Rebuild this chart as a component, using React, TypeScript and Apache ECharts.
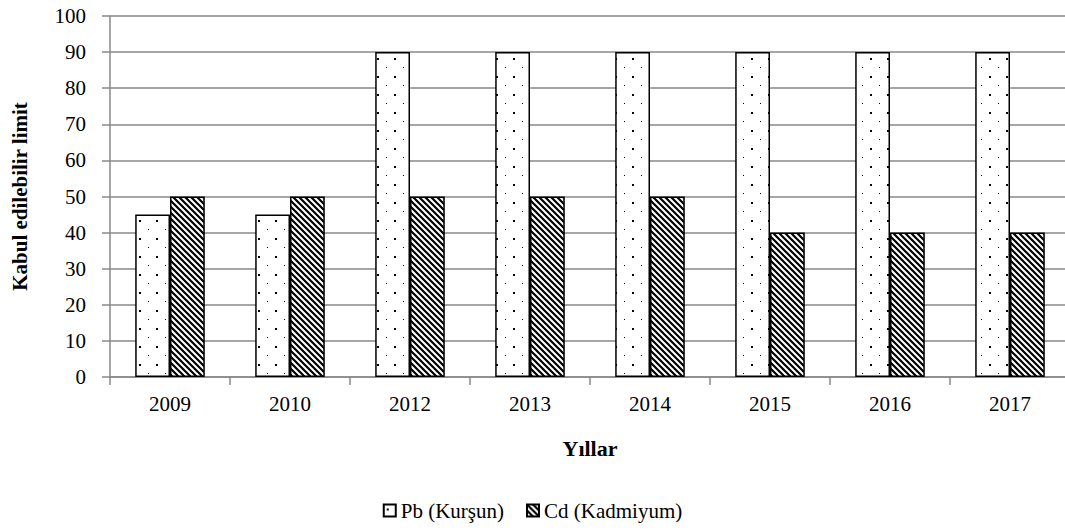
import React, { useEffect, useRef } from "react";
import * as echarts from "echarts";

const categories = ["2009", "2010", "2012", "2013", "2014", "2015", "2016", "2017"];
const pbValues = [45, 45, 90, 90, 90, 90, 90, 90];
const cdValues = [50, 50, 50, 50, 50, 40, 40, 40];
const seriesNames = ["Pb (Kurşun)", "Cd (Kadmiyum)"];

function dotPattern(): string {
  const c = document.createElement("canvas");
  c.width = 17;
  c.height = 18;
  const ctx = c.getContext("2d")!;
  ctx.fillStyle = "#fff";
  ctx.fillRect(0, 0, 17, 18);
  ctx.fillStyle = "#000";
  ctx.fillRect(3, 4, 2, 2);
  ctx.fillRect(12, 13, 1, 1);
  return c.toDataURL();
}

function stripePattern(): string {
  const s = 6;
  const c = document.createElement("canvas");
  c.width = s;
  c.height = s;
  const ctx = c.getContext("2d")!;
  ctx.fillStyle = "#fff";
  ctx.fillRect(0, 0, s, s);
  ctx.strokeStyle = "#000";
  ctx.lineWidth = 2.2;
  ctx.beginPath();
  ctx.moveTo(-s, -s);
  ctx.lineTo(2 * s, 2 * s);
  ctx.moveTo(-s, 0);
  ctx.lineTo(s, 2 * s);
  ctx.moveTo(0, -s);
  ctx.lineTo(2 * s, s);
  ctx.stroke();
  return c.toDataURL();
}

export default function App() {
  const ref = useRef<HTMLDivElement>(null);
  useEffect(() => {
    document.body.style.margin = "0";
    const chart = echarts.init(ref.current!, null, { renderer: "svg" });
    const font = "Liberation Serif";
    const pb = { image: dotPattern(), repeat: "repeat" };
    const cd = { image: stripePattern(), repeat: "repeat" };
    chart.setOption({
      animation: false,
      textStyle: { fontFamily: font },
      grid: { left: 110, right: -5, top: 16, bottom: 155, containLabel: false, outerBoundsMode: "none" },
      legend: {
        bottom: 6,
        left: "center",
        icon: "rect",
        itemWidth: 12,
        itemHeight: 12,
        itemGap: 22,
        textStyle: { fontFamily: font, fontSize: 21, color: "#000" },
        data: seriesNames,
      },
      xAxis: {
        type: "category",
        data: categories,
        name: "Yıllar",
        nameLocation: "middle",
        nameGap: 60,
        nameTextStyle: { fontFamily: font, fontSize: 22, fontWeight: "bold", color: "#000" },
        axisLine: { lineStyle: { color: "#888", width: 1.5 } },
        axisTick: { show: true, length: 8, lineStyle: { color: "#888", width: 1.5 } },
        axisLabel: { fontFamily: font, fontSize: 21, color: "#000", margin: 16 },
      },
      yAxis: {
        type: "value",
        min: 0,
        max: 100,
        interval: 10,
        name: "Kabul edilebilir limit",
        nameLocation: "middle",
        nameGap: 80,
        nameTextStyle: { fontFamily: font, fontSize: 21, fontWeight: "bold", color: "#000" },
        axisLine: { show: true, lineStyle: { color: "#888", width: 1.5 } },
        axisTick: { show: true, length: 8, lineStyle: { color: "#888", width: 1.5 } },
        axisLabel: { fontFamily: font, fontSize: 21, color: "#000", margin: 24 },
        splitLine: { lineStyle: { color: "#888", width: 1.5 } },
      },
      series: [
        {
          name: seriesNames[0],
          type: "bar",
          data: pbValues,
          barGap: "0%",
          barCategoryGap: "42%",
          itemStyle: { color: pb, borderColor: "#000", borderWidth: 1.5 },
        },
        {
          name: seriesNames[1],
          type: "bar",
          data: cdValues,
          barGap: "0%",
          barCategoryGap: "42%",
          itemStyle: { color: cd, borderColor: "#000", borderWidth: 1.5 },
        },
      ],
    });
    return () => chart.dispose();
  }, []);
  return <div ref={ref} style={{ width: 1065, height: 532 }} />;
}
